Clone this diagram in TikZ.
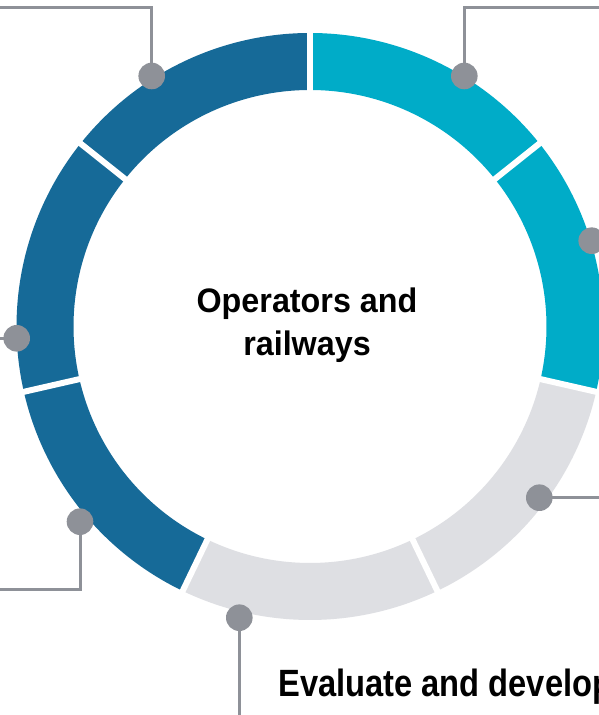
\documentclass[tikz,border=0pt]{standalone}
\usepackage{fontspec}
\setmainfont{Liberation Sans}
\newfontfamily\centerfont[FakeStretch=0.95]{Liberation Sans}
\newfontfamily\bottomfont[FakeStretch=0.86]{Liberation Sans}
\definecolor{ringblue}{HTML}{166A98}
\definecolor{ringcyan}{HTML}{00ACC8}
\definecolor{ringgray}{HTML}{DEDFE3}
\definecolor{dotgray}{HTML}{8E9198}
\tikzset{
  dotnode/.style={circle, fill=dotgray, minimum size=26.6pt, inner sep=0pt},
  conn/.style={draw=dotgray, line width=3pt},
  gapline/.style={draw=white, line width=6pt},
}
\begin{document}
\begin{tikzpicture}[x=1pt,y=1pt]
\useasboundingbox (0,0) rectangle (599,715);
\fill[white] (0,0) rectangle (599,715);
% ring segments (centre 310,388.5; R=293.5, r=236.5)
\foreach \a/\c in {90/ringcyan, 38.5714/ringcyan, -12.8571/ringgray, -64.2857/ringgray, -115.7143/ringblue, -167.1429/ringblue, -218.5714/ringblue}{
  \pgfmathsetmacro{\b}{\a-51.4286}
  \pgfmathsetmacro{\bb}{\b+180}
  \fill[\c] (310,388.5) ++(\a:293.5) arc[start angle=\a, end angle=\b, radius=293.5]
    -- ++(\bb:57) arc[start angle=\b, end angle=\a, radius=236.5] -- cycle;
}
\foreach \a in {90, 38.5714, -12.8571, -64.2857, -115.7143, -167.1429, -218.5714}{
  \draw[gapline] (310,388.5) -- ++(\a:300);
}
% connector ends
\coordinate (e1) at (0,707.5);
\coordinate (e2) at (599,707.5);
\coordinate (e4) at (599,217.3);
\coordinate (e5) at (239.3,0);
\coordinate (e6) at (0,125);
\coordinate (e7) at (0,376.7);
% connectors
\draw[conn] (151.7,639) coordinate (p1) |- (e1);
\draw[conn] (464.3,639) coordinate (p2) |- (e2);
\draw[conn] (539.3,217.3) coordinate (p4) -- (e4);
\draw[conn] (239.3,97.3) coordinate (p5) -- (e5);
\draw[conn] (80,193.3) coordinate (p6) |- (e6);
\draw[conn] (16.7,376.7) coordinate (p7) -- (e7);
% dots
\node[dotnode] (d1) at (p1) {};
\node[dotnode] (d2) at (p2) {};
\node[dotnode] (d3) at (591.7,474.3) {};
\node[dotnode] (d4) at (p4) {};
\node[dotnode] (d5) at (p5) {};
\node[dotnode] (d6) at (p6) {};
\node[dotnode] (d7) at (p7) {};
% texts
\node[align=center, font=\centerfont\bfseries\fontsize{34}{43}\selectfont, inner sep=0pt] (title) at (307,390) {Operators and\\railways};
\node[anchor=base west, font=\bottomfont\bfseries\fontsize{38}{44}\selectfont, inner sep=0pt] (bottom) at (278,18) {Evaluate and develop};
\end{tikzpicture}
\end{document}
